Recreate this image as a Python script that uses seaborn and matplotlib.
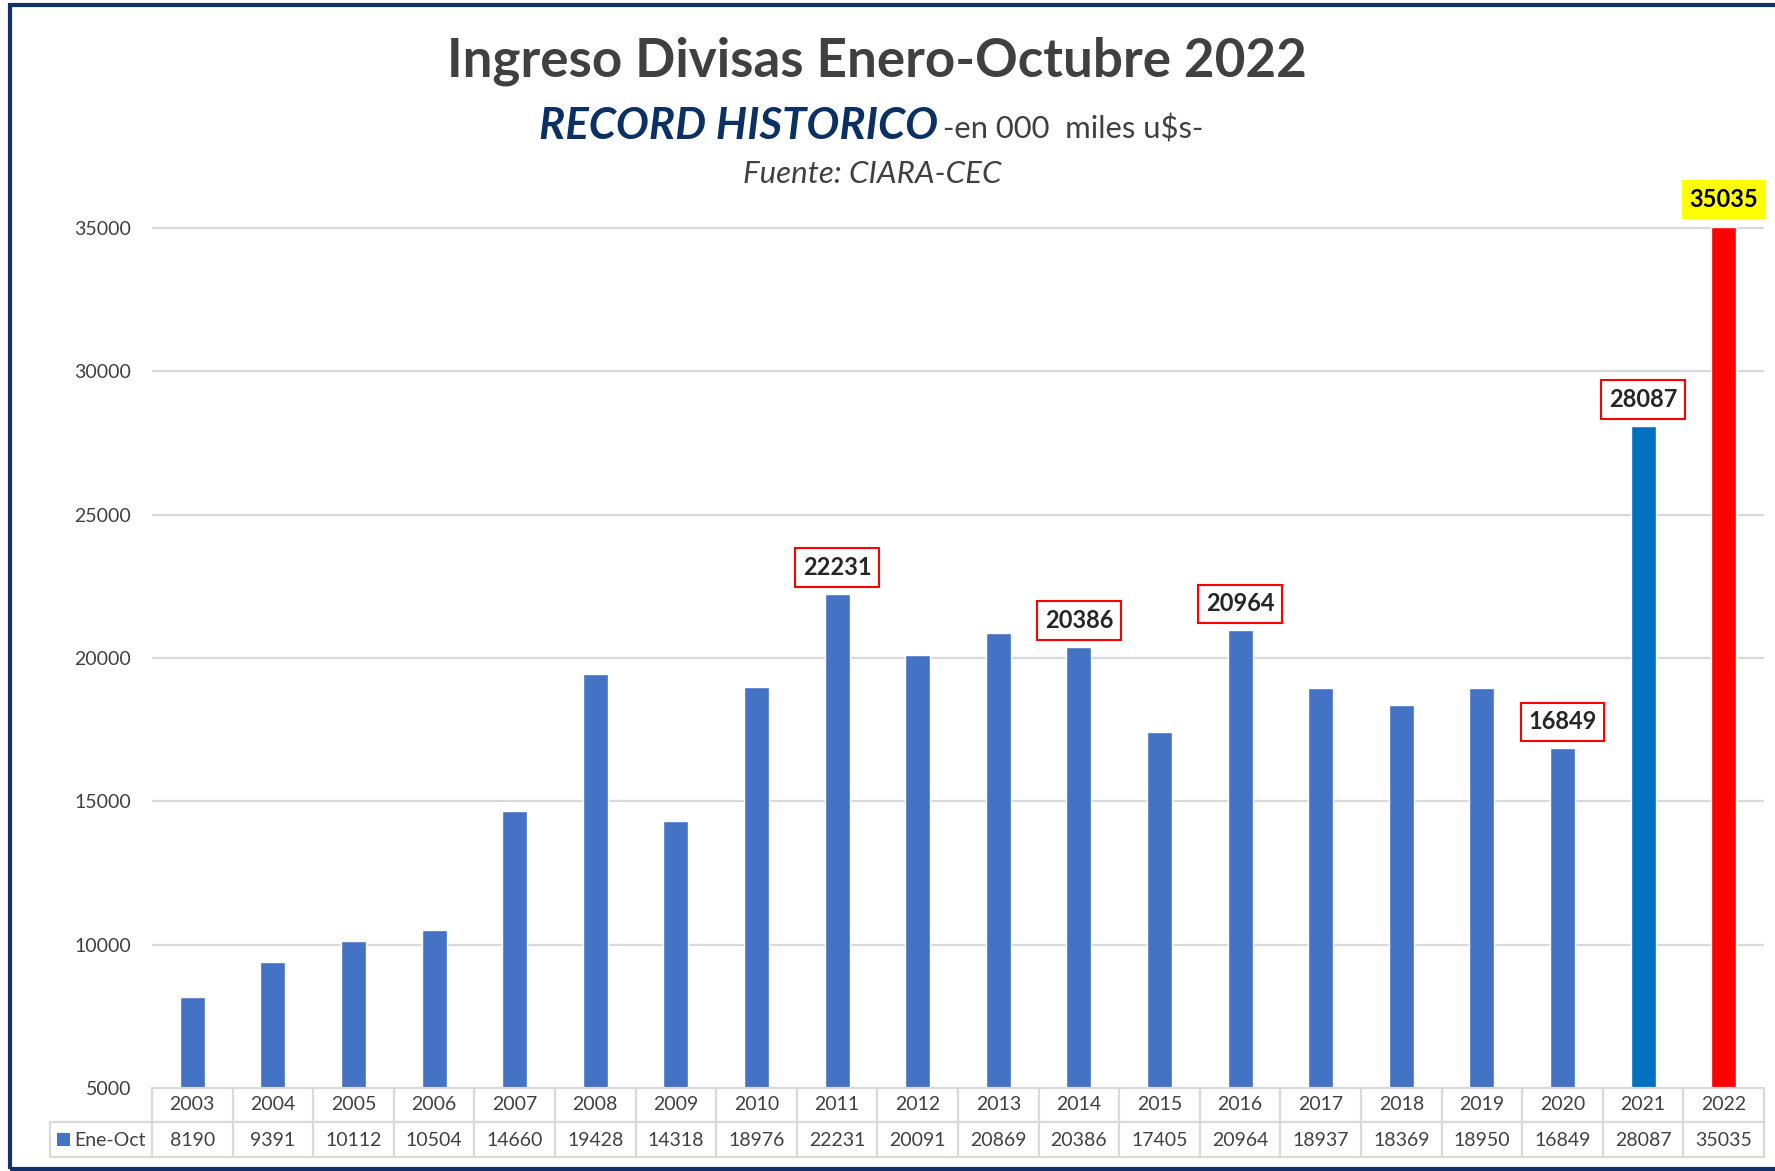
import matplotlib
matplotlib.use("Agg")
import matplotlib.pyplot as plt
import matplotlib.transforms as mtransforms
from matplotlib.patches import Rectangle
from matplotlib.lines import Line2D
import seaborn as sns
import pandas as pd

# ---------------- data ----------------
years = [str(y) for y in range(2003, 2023)]
values = [8190, 9391, 10112, 10504, 14660, 19428, 14318, 18976, 22231, 20091,
          20869, 20386, 17405, 20964, 18937, 18369, 18950, 16849, 28087, 35035]
series_name = "Ene-Oct"
bar_colors = ["#4472C4"] * 18 + ["#0070C0", "#FF0000"]
boxed_years = ["2011", "2014", "2016", "2020", "2021"]
highlight_year = "2022"
yticks = [5000, 10000, 15000, 20000, 25000, 30000, 35000]

title = "Ingreso Divisas Enero-Octubre 2022"
subtitle_bold = "RECORD HISTORICO"
subtitle_rest = "-en 000  miles u$s-"
source = "Fuente: CIARA-CEC"

# ---------------- style ----------------
W, H = 1775, 1171
sns.set_theme(style="white")
plt.rcParams['font.family'] = ['Lato', 'DejaVu Sans']
TXT = "#404040"
GRID = "#d9d9d9"

fig = plt.figure(figsize=(W / 100, H / 100), dpi=100)


def fx(px):
    return px / W


def fy(py):
    return 1 - py / H


ax_left, ax_right, ax_bottom, y35 = 152, 1764, 1088, 228
ymin, ymax = 5000, 35060
ppu = (ax_bottom - y35) / 30000
ax_top = ax_bottom - (ymax - ymin) * ppu
ax = fig.add_axes([fx(ax_left), fy(ax_bottom), (ax_right - ax_left) / W, (ax_bottom - ax_top) / H])

df = pd.DataFrame({"year": years, "value": values})
sns.barplot(data=df, x="year", y="value", hue="year", palette=bar_colors,
            legend=False, width=0.31, saturation=1, ax=ax, zorder=3)

ax.set_xlim(-0.5, len(years) - 0.5)
ax.set_ylim(ymin, ymax)
ax.set_yticks(yticks)
ax.set_yticklabels([str(t) for t in yticks])
ax.tick_params(axis='y', length=0, pad=15, labelsize=14, labelcolor=TXT)
ax.tick_params(axis='x', length=0, labelbottom=False)
ax.set_xlabel("")
ax.set_ylabel("")
for s in ax.spines.values():
    s.set_visible(False)
for t in yticks[1:]:
    ax.axhline(t, color=GRID, lw=1.6, zorder=1)

# ---------------- annotations ----------------
for i, (yr, v) in enumerate(zip(years, values)):
    if yr in boxed_years:
        ax.annotate(str(v), xy=(i, v), xytext=(0, 19), textcoords='offset points',
                    ha='center', va='center', fontsize=17, fontweight='bold', color='#262626',
                    bbox=dict(boxstyle='square,pad=0.33', fc='white', ec='#FF0000', lw=1.5),
                    annotation_clip=False, zorder=5)
    elif yr == highlight_year:
        ax.annotate(str(v), xy=(i, v), xytext=(0, 20), textcoords='offset points',
                    ha='center', va='center', fontsize=17, fontweight='bold', color='black',
                    bbox=dict(boxstyle='square,pad=0.33', fc='#FFFF00', ec='none'),
                    annotation_clip=False, zorder=5)

# ---------------- data table ----------------
trans = mtransforms.blended_transform_factory(ax.transData, fig.transFigure)
lw_t = 1.6
fig.add_artist(Line2D([fx(ax_left), fx(ax_right)], [fy(1088), fy(1088)], color=GRID, lw=lw_t))
fig.add_artist(Line2D([fx(50), fx(ax_right)], [fy(1122), fy(1122)], color=GRID, lw=lw_t))
fig.add_artist(Line2D([fx(50), fx(ax_right)], [fy(1157), fy(1157)], color=GRID, lw=lw_t))
fig.add_artist(Line2D([fx(50), fx(50)], [fy(1122), fy(1157)], color=GRID, lw=lw_t))
for k in range(len(years) + 1):
    xb = k - 0.5
    fig.add_artist(Line2D([xb, xb], [fy(1088), fy(1157)], color=GRID, lw=lw_t, transform=trans))
for i, (yr, v) in enumerate(zip(years, values)):
    fig.text(i, fy(1105), yr, transform=trans, ha='center', va='center', fontsize=14, color=TXT)
    fig.text(i, fy(1140), str(v), transform=trans, ha='center', va='center', fontsize=14, color=TXT)
fig.add_artist(Rectangle((fx(57), fy(1146)), 13 / W, 13 / H, transform=fig.transFigure,
                         fc="#4472C4", ec='none'))
fig.text(fx(74), fy(1140), series_name, ha='left', va='center', fontsize=14, color=TXT)

# ---------------- titles ----------------
fig.text(fx(877), fy(77), title, ha='center', va='baseline', fontsize=38.2,
         fontweight='bold', color=TXT)
fig.text(fx(539), fy(139), subtitle_bold, ha='left', va='baseline', fontsize=31.5,
         fontweight='bold', fontstyle='italic', color='#0B3063')
fig.text(fx(943), fy(139), subtitle_rest, ha='left', va='baseline', fontsize=22.3, color=TXT)
fig.text(fx(872), fy(183), source, ha='center', va='baseline', fontsize=22.5,
         fontstyle='italic', color=TXT)

# ---------------- frame ----------------
fig.add_artist(Rectangle((fx(10), fy(1169)), 1.0, (1169 - 5) / H, transform=fig.transFigure,
                         fill=False, ec='#13306B', lw=3))

fig.savefig("out.png", dpi=100)
